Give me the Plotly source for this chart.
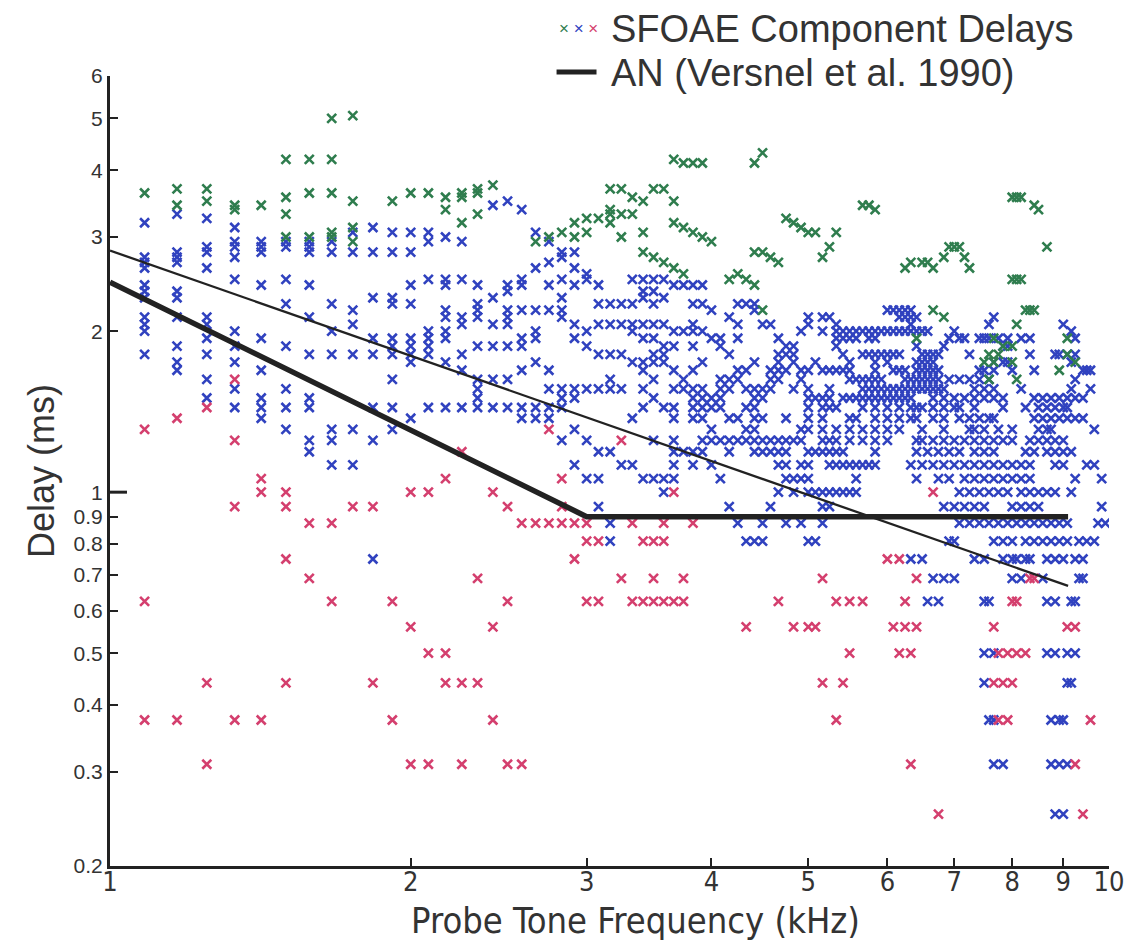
import math
import plotly.graph_objects as go

# ---------------- data (frequency in kHz, delay in ms) ----------------
# low-frequency part: (frequency, [delays])
GREEN_COLUMNS = [
    (1.083, [3.625]), (1.167, [3.69, 3.44]), (1.25, [3.69, 3.5]), (1.333, [3.44, 3.375]),
    (1.417, [3.44]), (1.5, [4.19, 3.56, 3.31, 3.0]), (1.583, [4.19, 3.625, 3.0]),
    (1.667, [5.0, 4.19, 3.625, 3.06, 3.0]), (1.75, [5.06, 3.5, 3.125, 2.94]),
    (1.917, [3.5]), (2.0, [3.625]), (2.083, [3.625]), (2.167, [3.56, 3.375]),
    (2.25, [3.625, 3.56, 3.19]), (2.333, [3.69, 3.625, 3.31]), (2.417, [3.75]),
    (2.667, [2.94]), (2.75, [3.0]), (2.833, [3.06]), (2.917, [3.19, 3.0]),
    (3.0, [3.25, 3.06]), (3.083, [3.25]), (3.167, [3.69, 3.375, 3.31, 3.19]),
    (3.25, [3.69, 3.31, 3.0]), (3.333, [3.56, 3.31]), (3.417, [3.5, 3.06, 2.81]),
    (3.5, [3.69, 2.75]), (3.583, [3.69, 2.69]), (3.667, [4.19, 3.5, 3.19, 2.625]),
    (3.75, [4.125, 3.125, 2.56]), (3.833, [4.125, 3.06]), (3.917, [4.125, 3.0]),
    (4.0, [2.94]), (4.167, [2.5]), (4.25, [2.56]), (4.333, [2.5]),
    (4.417, [4.125, 2.81, 2.44]), (4.5, [4.31, 2.81, 2.19]), (4.583, [2.75]),
    (4.667, [2.69]), (4.75, [3.25]), (4.833, [3.19]), (4.917, [3.125]), (5.0, [3.06]),
    (5.083, [3.06]), (5.167, [2.75]), (5.25, [2.875]), (5.333, [3.06]),
    (5.667, [3.44]), (5.75, [3.44]), (5.833, [3.375]),
    (6.25, [2.625]), (6.333, [2.69]), (6.417, [1.94]), (6.5, [2.69]), (6.583, [2.69]),
    (6.667, [2.625, 2.19]), (6.833, [2.75, 2.125]), (6.917, [2.875]), (7.0, [2.875]),
    (7.083, [2.875]), (7.167, [2.75]), (7.25, [2.625]), (7.5, [1.75]),
    (7.583, [1.81, 1.625]), (7.667, [1.94, 1.75]), (7.75, [1.81]), (7.833, [1.875]),
    (8.0, [3.56, 2.5, 1.875, 1.75]), (8.083, [3.56, 2.5, 2.06, 1.625]), (8.167, [3.56, 2.5]),
    (8.25, [2.19]), (8.333, [2.19]), (8.417, [3.44, 2.19]), (8.5, [3.375]),
    (8.667, [2.875]), (8.917, [1.69]), (9.083, [1.94, 1.81]), (9.25, [1.75]),
]

BLUE_COLUMNS = [
    (1.083, [3.19, 2.75, 2.69, 2.625, 2.44, 2.375, 2.31, 2.125, 2.06, 2.0, 1.81]),
    (1.167, [3.31, 2.81, 2.75, 2.69, 2.375, 2.31, 2.125, 1.875, 1.75, 1.69]),
    (1.25, [3.25, 2.875, 2.81, 2.625, 2.125, 2.06, 1.94, 1.81, 1.625, 1.5]),
    (1.333, [3.125, 2.94, 2.875, 2.75, 2.5, 2.0, 1.875, 1.75, 1.56, 1.44]),
    (1.417, [2.94, 2.875, 2.81, 2.44, 1.94, 1.69, 1.5, 1.44, 1.375]),
    (1.5, [2.94, 2.875, 2.5, 2.25, 1.875, 1.56, 1.44, 1.31]),
    (1.583, [2.94, 2.875, 2.81, 2.44, 2.125, 1.81, 1.5, 1.44, 1.25, 1.19]),
    (1.667, [2.94, 2.81, 2.25, 2.0, 1.81, 1.31, 1.25, 1.125]),
    (1.75, [3.06, 2.81, 2.19, 2.06, 1.81, 1.31, 1.125]),
    (1.833, [3.125, 2.81, 2.31, 1.94, 1.81, 1.44, 1.25]),
    (1.917, [3.06, 2.81, 2.31, 2.25, 1.94, 1.875, 1.81, 1.625, 1.44, 1.31]),
    (2.0, [3.06, 2.81, 2.44, 2.25, 1.94, 1.875, 1.81, 1.75, 1.375]),
    (2.083, [3.06, 2.94, 2.5, 2.0, 1.94, 1.875, 1.81, 1.44]),
    (2.167, [3.0, 2.5, 2.44, 2.19, 2.125, 2.0, 1.94, 1.75, 1.44]),
    (2.25, [2.94, 2.5, 2.125, 2.06, 1.81, 1.69, 1.44]),
    (2.333, [2.44, 2.25, 2.19, 2.125, 1.875, 1.625, 1.56, 1.5, 1.44]),
    (2.417, [3.44, 2.31, 2.06, 1.875, 1.625, 1.44]),
    (2.5, [3.5, 2.44, 2.375, 2.19, 2.125, 2.06, 1.875, 1.625, 1.44]),
    (2.583, [3.375, 2.5, 2.44, 2.19, 1.94, 1.875, 1.69, 1.44, 1.375]),
    (2.667, [3.06, 2.625, 2.19, 2.0, 1.94, 1.75, 1.44, 1.375]),
    (2.75, [2.94, 2.69, 2.44, 2.19, 1.69, 1.56, 1.44, 1.375]),
    (2.833, [2.81, 2.75, 2.5, 2.31, 2.19, 2.125, 1.56, 1.5, 1.44]),
    (2.917, [2.81, 2.625, 2.44, 2.06, 1.94, 1.56, 1.5, 1.31]),
    (3.0, [2.56, 2.5, 2.0, 1.875, 1.56]),
    (3.083, [2.44, 2.25, 2.06, 1.81, 1.56]),
    (3.167, [2.25, 2.06, 1.81, 1.625, 1.56]),
    (3.25, [2.25, 2.06, 1.81, 1.56]),
    (3.333, [2.5, 2.25, 2.06, 2.0, 1.75, 1.375]),
    (3.417, [2.5, 2.375, 2.31, 2.06, 1.94, 1.75, 1.69, 1.56, 1.44]),
    (3.5, [2.5, 2.375, 2.25, 2.06, 1.94, 1.81, 1.75, 1.625, 1.5]),
    (3.583, [2.5, 2.31, 2.06, 1.875, 1.81, 1.75, 1.44]),
    (3.667, [2.44, 2.0, 1.875, 1.69, 1.56, 1.44, 1.375]),
    (3.75, [2.44, 2.0, 1.625, 1.56]),
    (3.833, [2.44, 2.25, 2.06, 2.0, 1.875, 1.69, 1.56, 1.5, 1.44, 1.375]),
    (3.917, [2.44, 2.25, 2.0, 1.75, 1.56, 1.5, 1.44, 1.375]),
]

# high-frequency part: (delay, [frequencies])
BLUE_ROWS = [
    (2.25, [4.25, 4.333, 4.417]),
    (2.19, [4.0, 4.417, 6.0, 6.083, 6.167, 6.25, 6.333]),
    (2.125, [4.167, 5.0, 5.167, 5.25, 6.167, 6.25, 6.333, 6.417, 7.667]),
    (2.06, [4.25, 4.5, 4.583, 5.0, 5.333, 6.333, 7.583, 9.0]),
    (2.0, [4.917, 5.167, 5.333, 5.417, 5.5, 5.583, 5.667, 5.75, 5.833, 5.917, 6.0, 6.083,
           6.167, 6.25, 6.333, 6.417, 6.5, 6.583, 7.0, 9.167]),
    (1.94, [4.0, 4.083, 4.25, 4.667, 5.333, 5.417, 5.5, 5.583, 5.75, 5.833, 6.917, 7.083,
            7.167, 7.417, 7.5, 7.583, 7.75, 7.917, 8.167, 8.333, 9.25]),
    (1.875, [4.083, 4.75, 4.833, 5.333, 6.417, 6.833, 7.833, 7.917]),
    (1.81, [4.167, 4.667, 4.75, 4.833, 5.417, 5.667, 5.75, 5.833, 5.917, 6.0, 6.083, 6.167,
            6.5, 6.583, 6.667, 6.75, 7.25, 8.333, 8.833, 8.917, 9.083, 9.25]),
    (1.75, [4.417, 4.667, 4.833, 5.083, 5.5, 5.833, 6.0, 6.417, 6.5, 6.583, 6.667, 7.667,
            7.833, 7.917, 9.167]),
    (1.69, [4.25, 4.333, 4.583, 4.667, 4.75, 4.917, 5.0, 5.167, 5.25, 5.333, 5.417, 5.5,
            5.833, 6.083, 6.167, 6.25, 6.417, 6.5, 6.583, 6.667, 6.75, 7.417, 7.5, 7.667,
            8.0, 8.417, 9.417, 9.5, 9.583]),
    (1.625, [4.083, 4.167, 4.25, 4.583, 4.667, 4.917, 5.5, 5.583, 5.667, 5.75, 5.833, 5.917,
             6.25, 6.333, 6.417, 6.5, 6.583, 6.667, 6.75, 6.917, 7.083, 7.25, 7.417, 7.583,
             9.25]),
    (1.56, [4.083, 4.167, 4.333, 4.417, 4.5, 4.583, 4.833, 5.0, 5.25, 5.667, 5.75, 5.833,
            5.917, 6.0, 6.083, 6.167, 6.25, 6.333, 6.417, 6.5, 6.583, 6.667, 6.75, 6.833,
            7.333, 7.5, 7.667, 8.167, 9.167, 9.583]),
    (1.5, [4.0, 4.083, 4.417, 4.5, 5.0, 5.083, 5.167, 5.25, 5.417, 5.5, 5.583, 5.667, 5.75,
           5.833, 5.917, 6.0, 6.083, 6.167, 6.25, 6.333, 6.667, 6.833, 7.0, 7.167, 7.333,
           7.5, 7.667, 7.833, 8.417, 8.583, 8.75, 8.917, 9.083, 9.25, 9.417]),
    (1.44, [4.0, 4.083, 4.333, 4.417, 5.0, 5.167, 5.25, 5.333, 5.667, 5.833, 6.0, 6.167,
            6.333, 6.417, 6.5, 6.667, 6.833, 7.0, 7.083, 7.333, 7.833, 8.25, 8.5, 8.667,
            8.833, 9.0, 9.083]),
    (1.375, [4.167, 4.25, 4.417, 4.5, 4.75, 5.0, 5.167, 5.5, 5.583, 5.833, 6.0, 6.167,
             6.333, 6.417, 6.667, 6.833, 7.083, 7.25, 7.417, 7.583, 7.667, 8.417, 8.583,
             8.75, 8.917, 9.083, 9.25, 9.417]),
    (1.31, [4.0, 4.333, 4.417, 4.917, 5.0, 5.167, 5.333, 5.5, 5.667, 5.833, 6.0, 6.167,
            6.5, 6.833, 7.25, 7.333, 7.5, 7.75, 8.0, 8.5, 8.667, 8.75, 9.667]),
    (1.25, [2.833, 3.0, 3.5, 3.667, 3.917, 4.0, 4.083, 4.167, 4.25, 4.333, 4.417, 4.5,
            4.583, 4.667, 4.75, 4.833, 4.917, 5.167, 5.25, 5.333, 5.5, 5.667, 5.833, 6.0,
            6.417, 6.5, 6.667, 6.833, 7.0, 7.167, 7.333, 7.5, 7.667, 7.833, 8.0, 8.333,
            8.5, 8.667, 8.833, 9.0]),
    (1.19, [3.083, 3.167, 3.667, 3.75, 3.833, 3.917, 4.167, 4.417, 4.5, 4.583, 4.667,
            4.75, 5.0, 5.083, 5.167, 5.25, 5.333, 5.417, 5.833, 6.417, 6.583, 6.75, 6.917,
            7.083, 7.333, 7.5, 7.667, 8.25, 8.417, 8.667, 8.833, 9.0, 9.167]),
    (1.125, [2.917, 3.25, 3.333, 3.667, 3.833, 4.0, 4.667, 4.75, 4.917, 5.0, 5.25, 5.333,
             5.417, 5.5, 5.583, 5.667, 5.75, 5.833, 6.333, 6.5, 6.667, 6.833, 7.0, 7.167,
             7.333, 7.5, 7.667, 7.833, 8.0, 8.167, 8.333, 8.833, 9.0, 9.5, 9.667]),
    (1.06, [3.0, 3.083, 3.417, 3.5, 3.583, 3.667, 4.083, 4.75, 4.833, 4.917, 5.0, 5.583,
            6.417, 6.75, 6.917, 7.167, 7.333, 7.5, 7.667, 7.833, 8.0, 8.167, 8.333, 9.25,
            9.833]),
    (1.0, [3.583, 4.667, 4.833, 5.0, 5.083, 5.167, 5.25, 5.333, 5.417, 5.5, 5.583, 7.083,
           7.25, 7.417, 7.583, 7.75, 7.917, 8.167, 8.333, 8.5, 8.667, 8.833, 9.167]),
    (0.94, [3.083, 4.167, 4.583, 5.167, 5.25, 6.833, 7.0, 7.167, 7.333, 7.5, 8.0, 8.167,
            8.333, 8.5, 9.833]),
    (0.875, [3.167, 4.25, 4.5, 4.75, 4.917, 5.167, 7.083, 7.25, 7.417, 7.583, 7.75, 7.917,
             8.083, 8.25, 8.417, 8.583, 8.75, 8.917, 9.083, 9.75, 9.917]),
    (0.81, [3.167, 4.333, 4.417, 4.5, 5.0, 5.083, 6.917, 7.0, 7.667, 7.833, 8.0, 8.25,
            8.417, 8.583, 8.75, 8.917, 9.083, 9.333, 9.5, 9.667]),
    (0.75, [1.833, 6.333, 6.5, 7.333, 7.5, 7.833, 8.0, 8.083, 8.25, 8.333, 8.667, 8.833,
            9.0, 9.25, 9.417]),
    (0.69, [6.667, 6.833, 7.0, 8.0, 8.167, 8.583, 9.333, 9.417]),
    (0.625, [6.583, 6.75, 7.5, 7.583, 8.667, 8.833, 9.167, 9.25]),
    (0.5, [7.5, 7.667, 8.667, 8.833, 9.083, 9.25]),
    (0.44, [7.5, 9.083, 9.167]),
    (0.375, [7.583, 7.667, 8.75, 8.917, 9.0]),
    (0.31, [7.667, 7.833, 8.75, 8.917, 9.083]),
    (0.25, [8.833, 9.0]),
]

RED_COLUMNS = [
    (1.083, [1.31, 0.625, 0.375]), (1.167, [1.375, 0.375]), (1.25, [1.44, 0.44, 0.31]),
    (1.333, [1.625, 1.25, 0.94, 0.375]), (1.417, [1.06, 1.0, 0.375]),
    (1.5, [1.0, 0.94, 0.75, 0.44]), (1.583, [0.875, 0.69]), (1.667, [0.875, 0.625]),
    (1.75, [0.94]), (1.833, [0.94, 0.44]), (1.917, [0.625, 0.375]),
    (2.0, [1.0, 0.56, 0.31]), (2.083, [1.0, 0.5, 0.31]), (2.167, [1.06, 0.5, 0.44]),
    (2.25, [1.19, 0.44, 0.31]), (2.333, [0.69, 0.44]), (2.417, [1.0, 0.56, 0.375]),
]

RED_ROWS = [
    (1.31, [2.75]), (1.25, [3.25]), (1.06, [2.833]), (1.0, [3.667, 6.667]),
    (0.94, [2.5, 2.833]),
    (0.875, [2.583, 2.667, 2.75, 2.833, 2.917, 3.0, 3.333, 3.583, 3.833]),
    (0.81, [3.0, 3.083, 3.417, 3.5, 3.583]),
    (0.75, [2.917, 6.0, 6.167]),
    (0.69, [3.25, 3.5, 3.75, 5.167, 6.417, 8.333, 8.417]),
    (0.625, [2.5, 3.0, 3.083, 3.333, 3.417, 3.5, 3.583, 3.667, 3.75, 4.667, 5.333, 5.5,
             5.667, 6.25, 8.0, 8.083]),
    (0.56, [4.333, 4.833, 5.0, 5.083, 6.083, 6.25, 6.417, 7.667, 9.083, 9.25]),
    (0.5, [5.5, 6.167, 6.333, 7.75, 7.917, 8.083, 8.25]),
    (0.44, [5.167, 5.417, 7.667, 7.833, 8.0]),
    (0.375, [5.333, 7.75, 7.917, 9.583]),
    (0.31, [2.5, 2.583, 6.333, 9.25]),
    (0.25, [6.75, 9.417]),
]

# Auditory-nerve reference lines (Versnel et al. 1990)
AN_THICK_F = [1.0, 3.0, 9.1]
AN_THICK_D = [2.47, 0.9, 0.9]
AN_THIN_F = [1.0, 9.1]
AN_THIN_D = [2.83, 0.668]

X_TICKS = [1, 2, 3, 4, 5, 6, 7, 8, 9, 10]
Y_TICKS = [0.2, 0.3, 0.4, 0.5, 0.6, 0.7, 0.8, 0.9, 1, 2, 3, 4, 5, 6]

GREEN = "#2f7d4e"
BLUE = "#3042bf"
RED = "#d43f6e"
INK = "#222222"
TXT = "#333333"
FONT = "Liberation Sans, Arial, sans-serif"
NARROW = "Liberation Sans Narrow, DejaVu Sans Condensed, Liberation Sans, Arial, sans-serif"


def expand(columns, rows):
    fx, dy = [], []
    for f, ds in columns:
        for d in ds:
            fx.append(f)
            dy.append(d)
    for d, fs in rows:
        for f in fs:
            fx.append(f)
            dy.append(d)
    return fx, dy


fig = go.Figure()
for cols, rows, col in [(BLUE_COLUMNS, BLUE_ROWS, BLUE), (RED_COLUMNS, RED_ROWS, RED),
                        (GREEN_COLUMNS, [], GREEN)]:
    fx, dy = expand(cols, rows)
    fig.add_trace(go.Scatter(
        x=fx, y=dy, mode="markers", showlegend=False, hoverinfo="skip",
        marker=dict(symbol="x-thin", size=9, color=col, line=dict(color=col, width=2.6)),
    ))

fig.add_trace(go.Scatter(x=AN_THIN_F, y=AN_THIN_D, mode="lines", showlegend=False,
                         line=dict(color=INK, width=2.3)))
fig.add_trace(go.Scatter(x=AN_THICK_F, y=AN_THICK_D, mode="lines", showlegend=False,
                         line=dict(color=INK, width=5.5)))

axis_common = dict(
    type="log", showgrid=False, zeroline=False, showline=True, linecolor=INK, linewidth=3,
    ticks="inside", tickcolor=INK, tickwidth=2, ticklen=8, mirror=False,
)

fig.update_xaxes(
    **axis_common, range=[0, 1], tickmode="array", tickvals=X_TICKS,
    ticktext=[str(v) for v in X_TICKS], ticklabelstandoff=-10,
    tickfont=dict(family=NARROW, size=27, color=TXT),
)
fig.update_yaxes(
    **axis_common, range=[math.log10(0.2), math.log10(6)], tickmode="array", tickvals=Y_TICKS,
    ticktext=[("%g" % v) for v in Y_TICKS],
    tickfont=dict(family=FONT, size=21, color=TXT),
    title=dict(text="Delay (ms)", font=dict(family=FONT, size=36, color=TXT), standoff=8),
)

# x-axis title
fig.add_annotation(xref="paper", yref="paper", x=0.526, y=-0.0695, xanchor="center",
                   yanchor="middle", showarrow=False, text="Probe Tone Frequency (kHz)",
                   font=dict(family=NARROW, size=36, color=TXT))

# longer tick at 1 ms
fig.add_shape(type="line", xref="paper", yref="y", x0=0, x1=0.017, y0=1, y1=1,
              line=dict(color=INK, width=3))

# hand-made legend in the top-right corner
fig.add_annotation(xref="paper", yref="paper", x=0.447, y=1.06, xanchor="left", yanchor="middle",
                   showarrow=False, font=dict(family=FONT, size=17),
                   text=f"<span style='color:{GREEN}'>×</span> <span style='color:{BLUE}'>×</span> "
                        f"<span style='color:{RED}'>×</span>")
fig.add_annotation(xref="paper", yref="paper", x=0.4995, y=1.06, xanchor="left", yanchor="middle",
                   showarrow=False, text="SFOAE Component Delays",
                   font=dict(family=FONT, size=38, color=TXT))
fig.add_annotation(xref="paper", yref="paper", x=0.4995, y=1.004, xanchor="left", yanchor="middle",
                   showarrow=False, text="AN (Versnel et al. 1990)",
                   font=dict(family=FONT, size=38, color=TXT))
fig.add_shape(type="line", xref="paper", yref="paper", x0=0.447, x1=0.487, y0=1.005, y1=1.005,
              line=dict(color=INK, width=5))

fig.update_layout(
    width=1136, height=943, margin=dict(l=110, r=19, t=76, b=77),
    paper_bgcolor="white", plot_bgcolor="white", showlegend=False,
    font=dict(family=FONT, color=TXT),
)

fig.write_html("out.html")
